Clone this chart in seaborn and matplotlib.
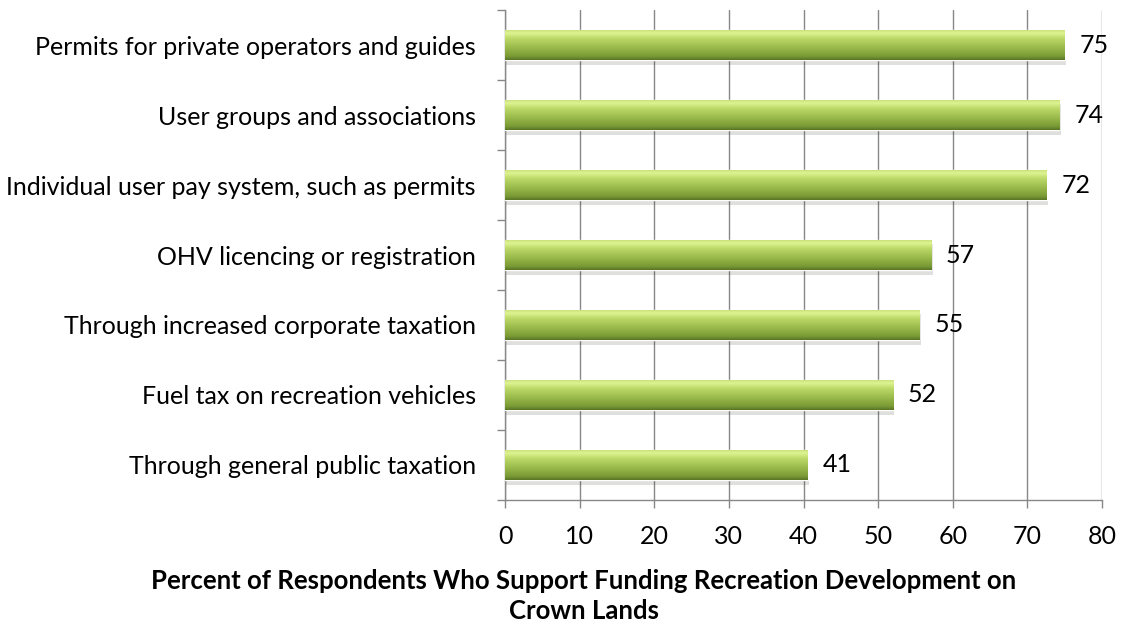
import numpy as np
import pandas as pd
import matplotlib
matplotlib.use("Agg")
import matplotlib.pyplot as plt
import matplotlib.patheffects as pe
from matplotlib.colors import LinearSegmentedColormap
import seaborn as sns

options = ["Permits for private operators and guides",
           "User groups and associations",
           "Individual user pay system, such as permits",
           "OHV licencing or registration",
           "Through increased corporate taxation",
           "Fuel tax on recreation vehicles",
           "Through general public taxation"]
pct = [75.0, 74.3, 72.6, 57.1, 55.5, 52.0, 40.6]
labels = ["75", "74", "72", "57", "55", "52", "41"]
xticks = [0, 10, 20, 30, 40, 50, 60, 70, 80]

sns.set_style("white")
plt.rcParams['font.family'] = ['Lato', 'DejaVu Sans']
plt.rcParams['text.color'] = 'black'
plt.rcParams['xtick.labelcolor'] = 'black'
plt.rcParams['ytick.labelcolor'] = 'black'

grey = "#878787"
df = pd.DataFrame({"option": options, "pct": pct})

fig = plt.figure(figsize=(11.23, 6.27), dpi=100)
ax = fig.add_axes([0.4497, 0.2026, 0.5316, 0.7814])
sns.barplot(data=df, x="pct", y="option", orient="h", color="#9bbb59",
            width=0.44, ax=ax, zorder=3)

ax.set_xlim(0, 80)
ax.set_ylim(6.5, -0.5)

# green tube shading, clipped to each bar
shade = LinearSegmentedColormap.from_list("tube", [
    (0.0, "#c2dc78"), (0.12, "#def492"), (0.3, "#bcd968"),
    (0.6, "#9aba4c"), (0.88, "#7a9a35"), (1.0, "#5a7626")])
grad = np.linspace(0, 1, 64).reshape(-1, 1)
for p in ax.patches:
    x0, y0 = p.get_x(), p.get_y()
    w, h = p.get_width(), p.get_height()
    p.set_path_effects([pe.SimplePatchShadow(offset=(1, -3), alpha=0.15), pe.Normal()])
    im = ax.imshow(grad, cmap=shade, aspect="auto", origin="upper",
                   extent=(x0, x0 + w, y0 + h, y0), zorder=4)
    im.set_clip_path(p)
ax.set_xlim(0, 80)
ax.set_ylim(6.5, -0.5)

for p, lab in zip(ax.patches, labels):
    ax.text(p.get_width() + 2, p.get_y() + p.get_height() / 2, lab,
            va="center", ha="left", fontsize=18, color="black", zorder=5)

ax.set_xticks(xticks)
ax.grid(axis="x", color=grey, linewidth=1, zorder=0)
ax.grid(axis="y", visible=False)
ax.set_yticks(np.arange(-0.5, 7), minor=True)
ax.tick_params(axis="y", which="major", length=0, pad=21, labelsize=18)
ax.tick_params(axis="y", which="minor", length=6, width=1, color=grey, left=True)
ax.tick_params(axis="x", length=6, width=1, color=grey, bottom=True, pad=12, labelsize=18)
for s in ["top", "right"]:
    ax.spines[s].set_visible(False)
for s in ["left", "bottom"]:
    ax.spines[s].set_color(grey)
    ax.spines[s].set_linewidth(1)
ax.set_xlabel("")
ax.set_ylabel("")

fig.text(0.52, 0.050, "Percent of Respondents Who Support Funding Recreation Development on\nCrown Lands",
         ha="center", va="center", fontsize=18.5, fontweight="bold", linespacing=1.3,
         color="black")

fig.savefig("out.png", dpi=100)
